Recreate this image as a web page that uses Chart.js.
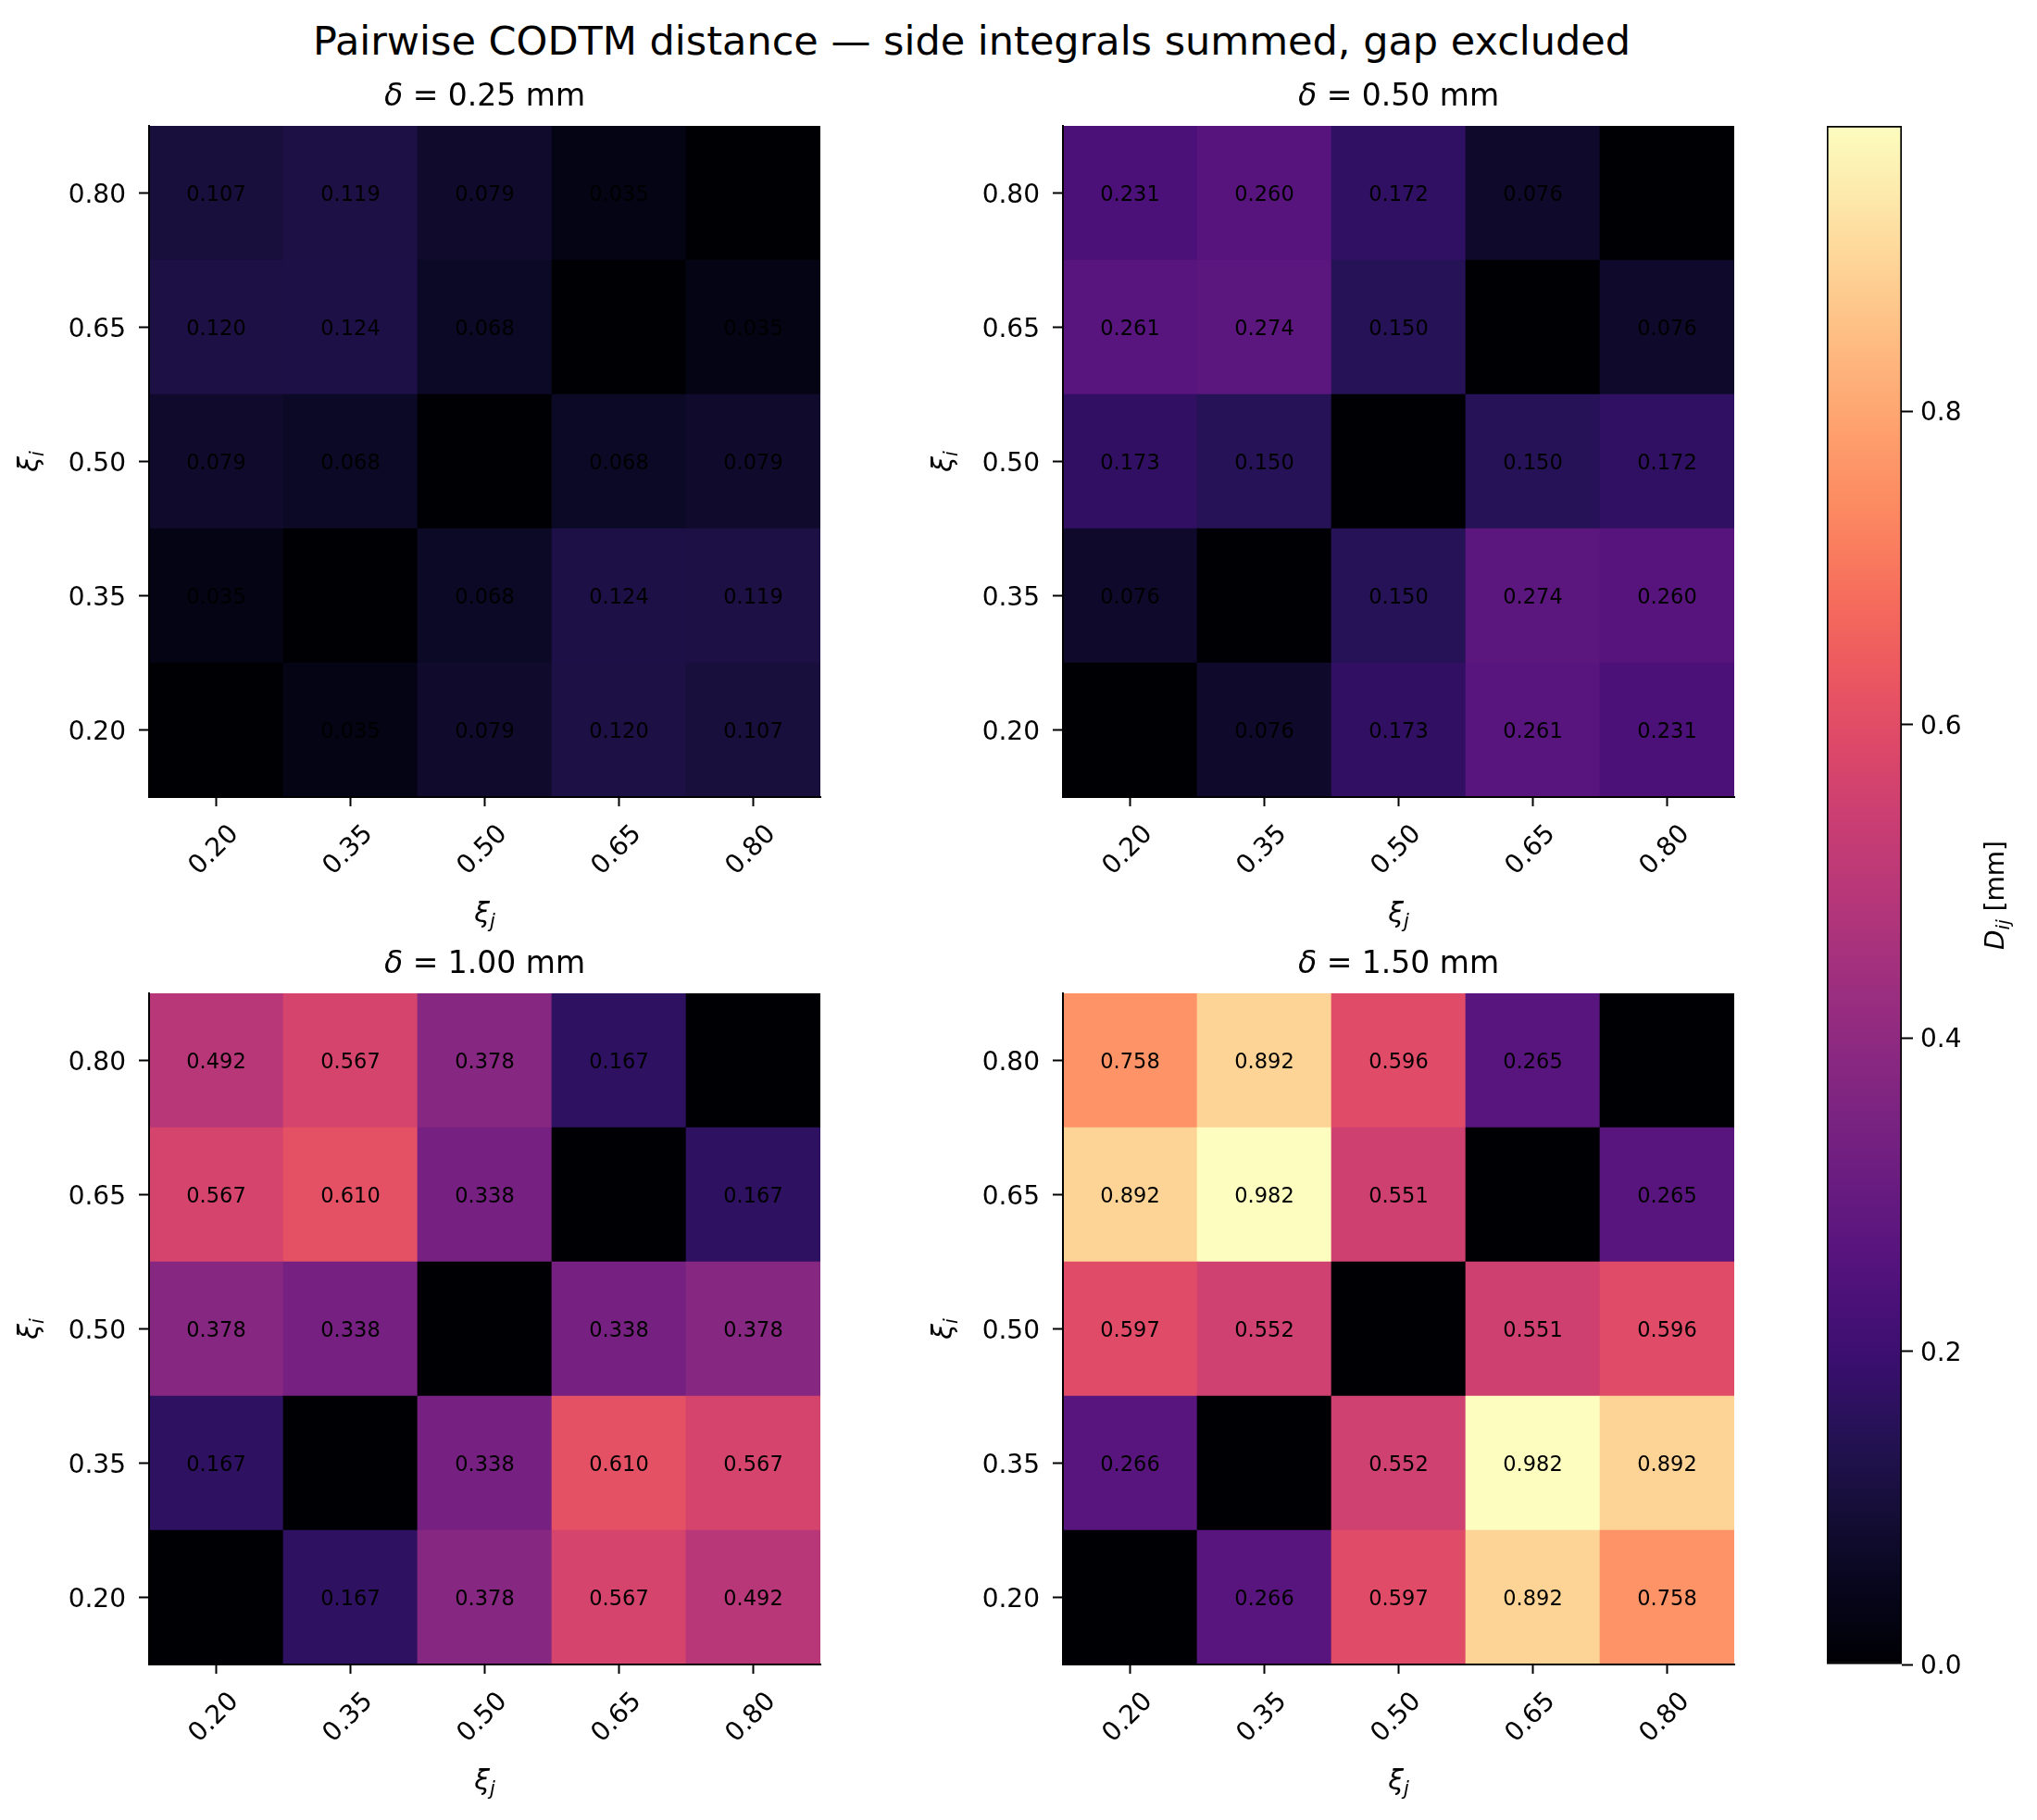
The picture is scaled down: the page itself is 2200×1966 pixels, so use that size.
<!DOCTYPE html>
<html>
<head>
<meta charset="utf-8">
<script src="https://cdn.jsdelivr.net/npm/chart.js@4.4.1/dist/chart.umd.min.js"></script>
<style>
  html, body { margin: 0; padding: 0; background: #fff; }
  #wrap { position: relative; width: 2200px; height: 1966px; overflow: hidden; }
  canvas { position: absolute; }
  #title {
    position: absolute; left: 0; top: 19px; width: 2099px;
    text-align: center; font: 43px "DejaVu Sans"; line-height: 50px; color: #000;
  }
</style>
</head>
<body>
<div id="wrap">
  <div id="title">Pairwise CODTM distance — side integrals summed, gap excluded</div>
</div>
<script>
const FONT = '"DejaVu Sans"';

// xi values, used for both axes
const XI = ["0.20", "0.35", "0.50", "0.65", "0.80"];
const DELTAS = ["0.25", "0.50", "1.00", "1.50"];

// rows: xi_i from 0.20 (bottom) to 0.80 (top); columns: xi_j
const D_025 = [
  [0.000, 0.035, 0.079, 0.120, 0.107],
  [0.035, 0.000, 0.068, 0.124, 0.119],
  [0.079, 0.068, 0.000, 0.068, 0.079],
  [0.120, 0.124, 0.068, 0.000, 0.035],
  [0.107, 0.119, 0.079, 0.035, 0.000],
];
const D_050 = [
  [0.000, 0.076, 0.173, 0.261, 0.231],
  [0.076, 0.000, 0.150, 0.274, 0.260],
  [0.173, 0.150, 0.000, 0.150, 0.172],
  [0.261, 0.274, 0.150, 0.000, 0.076],
  [0.231, 0.260, 0.172, 0.076, 0.000],
];
const D_100 = [
  [0.000, 0.167, 0.378, 0.567, 0.492],
  [0.167, 0.000, 0.338, 0.610, 0.567],
  [0.378, 0.338, 0.000, 0.338, 0.378],
  [0.567, 0.610, 0.338, 0.000, 0.167],
  [0.492, 0.567, 0.378, 0.167, 0.000],
];
const D_150 = [
  [0.000, 0.266, 0.597, 0.892, 0.758],
  [0.266, 0.000, 0.552, 0.982, 0.892],
  [0.597, 0.552, 0.000, 0.551, 0.596],
  [0.892, 0.982, 0.551, 0.000, 0.265],
  [0.758, 0.892, 0.596, 0.265, 0.000],
];

const VMAX = 0.982;
const CB_TICKS = [0, 0.2, 0.4, 0.6, 0.8];

// magma colormap stops
const MAGMA = [
  "#000004", "#07061c", "#150e37", "#251255", "#3b0f70", "#51127c", "#641a80",
  "#782281", "#8c2981", "#a1307e", "#b73779", "#ca3e72", "#de4968", "#ed5a5f",
  "#f7705c", "#fc8961", "#fe9f6d", "#feb77e", "#fecf92", "#fde7a9", "#fcfdbf",
];

function hexRgb(h) {
  return [1, 3, 5].map((i) => parseInt(h.slice(i, i + 2), 16));
}

function magma(t) {
  t = Math.max(0, Math.min(1, t));
  const f = t * (MAGMA.length - 1);
  const i = Math.min(Math.floor(f), MAGMA.length - 2);
  const a = hexRgb(MAGMA[i]), b = hexRgb(MAGMA[i + 1]);
  const k = f - i;
  const c = a.map((v, j) => Math.round(v + (b[j] - v) * k));
  return `rgb(${c[0]},${c[1]},${c[2]})`;
}

// draw a line of mixed text runs (italic / subscript), centred on x
function drawRuns(ctx, runs, x, y) {
  let total = 0;
  runs.forEach((r) => {
    ctx.font = `${r.italic ? "italic " : ""}${r.size}px ${FONT}`;
    r.w = ctx.measureText(r.text).width;
    total += r.w;
  });
  let cx = x - total / 2;
  ctx.textAlign = "left";
  ctx.textBaseline = "alphabetic";
  ctx.fillStyle = "#000";
  runs.forEach((r) => {
    ctx.font = `${r.italic ? "italic " : ""}${r.size}px ${FONT}`;
    ctx.fillText(r.text, cx, y + (r.dy || 0));
    cx += r.w;
  });
}

const cellLabels = {
  id: "cellLabels",
  afterDatasetsDraw(chart) {
    const ctx = chart.ctx;
    ctx.save();
    ctx.font = `22.5px ${FONT}`;
    ctx.fillStyle = "#000";
    ctx.textAlign = "center";
    ctx.textBaseline = "middle";
    chart.data.datasets.forEach((ds, r) => {
      chart.getDatasetMeta(r).data.forEach((el, c) => {
        if (r === c) return;
        const p = el.getCenterPoint();
        ctx.fillText(ds.values[c].toFixed(3), p.x, p.y + 3);
      });
    });
    ctx.restore();
  },
};

function decoPlugin(delta) {
  return {
    id: "deco",
    afterDraw(chart) {
      const ctx = chart.ctx, a = chart.chartArea;
      const mx = (a.left + a.right) / 2, my = (a.top + a.bottom) / 2;
      ctx.save();
      drawRuns(ctx, [
        { text: "δ", size: 33, italic: true },
        { text: " = " + delta + " mm", size: 33 },
      ], mx, a.top - 34 + 12);
      drawRuns(ctx, [
        { text: "ξ", size: 30, italic: true },
        { text: "j", size: 21, italic: true, dy: 6 },
      ], mx, a.bottom + 129 + 6);
      ctx.translate(a.left - 126, my);
      ctx.rotate(-Math.PI / 2);
      drawRuns(ctx, [
        { text: "ξ", size: 30, italic: true },
        { text: "i", size: 21, italic: true, dy: 6 },
      ], 0, 6);
      ctx.restore();
    },
  };
}

const SIZE = 725, AXW = 161, PADT = 86, AXH = 150, PADR = 12;
const PANELS = [
  { data: D_025, delta: DELTAS[0], left: 161, top: 136 },
  { data: D_050, delta: DELTAS[1], left: 1148, top: 136 },
  { data: D_100, delta: DELTAS[2], left: 161, top: 1073 },
  { data: D_150, delta: DELTAS[3], left: 1148, top: 1073 },
];

const wrap = document.getElementById("wrap");

function makeCanvas(left, top, w, h) {
  const cv = document.createElement("canvas");
  cv.width = w; cv.height = h;
  cv.style.left = left + "px"; cv.style.top = top + "px";
  cv.style.width = w + "px"; cv.style.height = h + "px";
  wrap.appendChild(cv);
  return cv;
}

const tickGrid = (len) => ({
  display: true, offset: false, drawOnChartArea: false, drawTicks: true,
  tickLength: len, tickWidth: 2, tickColor: "#000",
});

PANELS.forEach((p) => {
  const cv = makeCanvas(p.left - AXW, p.top - PADT, AXW + SIZE + PADR, PADT + SIZE + AXH);
  new Chart(cv, {
    type: "bar",
    data: {
      labels: XI,
      datasets: p.data.map((row, r) => ({
        data: row.map(() => [r - 0.5, r + 0.5]),
        values: row,
        backgroundColor: row.map((v) => magma(v / VMAX)),
        borderWidth: 0,
        barPercentage: 1,
        categoryPercentage: 1,
        grouped: false,
      })),
    },
    options: {
      responsive: false,
      animation: false,
      devicePixelRatio: 1,
      layout: { padding: { top: PADT, right: PADR, left: 0, bottom: 0 } },
      plugins: { legend: { display: false }, tooltip: { enabled: false } },
      scales: {
        x: {
          offset: true,
          grid: tickGrid(10),
          border: { display: true, color: "#000", width: 2, z: 1 },
          ticks: {
            color: "#000", font: { family: "DejaVu Sans", size: 28 },
            minRotation: 45, maxRotation: 45, autoSkip: false, padding: 14, labelOffset: 20,
          },
          afterFit: (s) => { s.height = AXH; },
        },
        y: {
          type: "linear", min: -0.5, max: 4.5,
          afterBuildTicks: (s) => { s.ticks = XI.map((_, i) => ({ value: i })); },
          grid: tickGrid(11),
          border: { display: true, color: "#000", width: 2, z: 1 },
          ticks: {
            color: "#000", font: { family: "DejaVu Sans", size: 28 }, padding: 14,
            labelOffset: 3,
            callback: (v) => XI[v],
          },
          afterFit: (s) => { s.width = AXW; },
        },
      },
    },
    plugins: [cellLabels, decoPlugin(p.delta)],
  });
});

// colorbar: one floating bar from 0 to VMAX, filled with the colormap
const cbLabel = {
  id: "cbLabel",
  afterDraw(chart) {
    const ctx = chart.ctx, a = chart.chartArea;
    ctx.save();
    ctx.translate(254, (a.top + a.bottom) / 2);
    ctx.rotate(-Math.PI / 2);
    drawRuns(ctx, [
      { text: "D", size: 28, italic: true },
      { text: "ij", size: 20, italic: true, dy: 6 },
      { text: " [mm]", size: 28 },
    ], 0, 10);
    ctx.restore();
  },
};

function cbFill(c) {
  const ys = c.chart.scales.y;
  if (!ys) return "#000";
  const y0 = ys.getPixelForValue(0), y1 = ys.getPixelForValue(VMAX);
  if (!isFinite(y0) || !isFinite(y1) || y0 === y1) return "#000";
  const g = c.chart.ctx.createLinearGradient(0, y0, 0, y1);
  MAGMA.forEach((col, i) => g.addColorStop(i / (MAGMA.length - 1), col));
  return g;
}

const cbCanvas = makeCanvas(1900, 100, 300, 1760);
new Chart(cbCanvas, {
  type: "bar",
  data: {
    labels: [""],
    datasets: [{
      data: [[0, VMAX]],
      backgroundColor: cbFill,
      borderColor: "#000",
      borderWidth: 2,
      borderSkipped: false,
      barPercentage: 1,
      categoryPercentage: 1,
    }],
  },
  options: {
    responsive: false,
    animation: false,
    devicePixelRatio: 1,
    layout: { padding: { left: 73, top: 36, bottom: 62, right: 0 } },
    plugins: { legend: { display: false }, tooltip: { enabled: false } },
    scales: {
      x: { display: false, offset: true },
      y: {
        position: "right", min: 0, max: VMAX,
        afterBuildTicks: (s) => { s.ticks = CB_TICKS.map((v) => ({ value: v })); },
        grid: tickGrid(12),
        border: { display: false },
        ticks: {
          color: "#000", font: { family: "DejaVu Sans", size: 28 }, padding: 8,
          labelOffset: 3,
          callback: (v) => v.toFixed(1),
        },
        afterFit: (s) => { s.width = 146; },
      },
    },
  },
  plugins: [cbLabel],
});
</script>
</body>
</html>
